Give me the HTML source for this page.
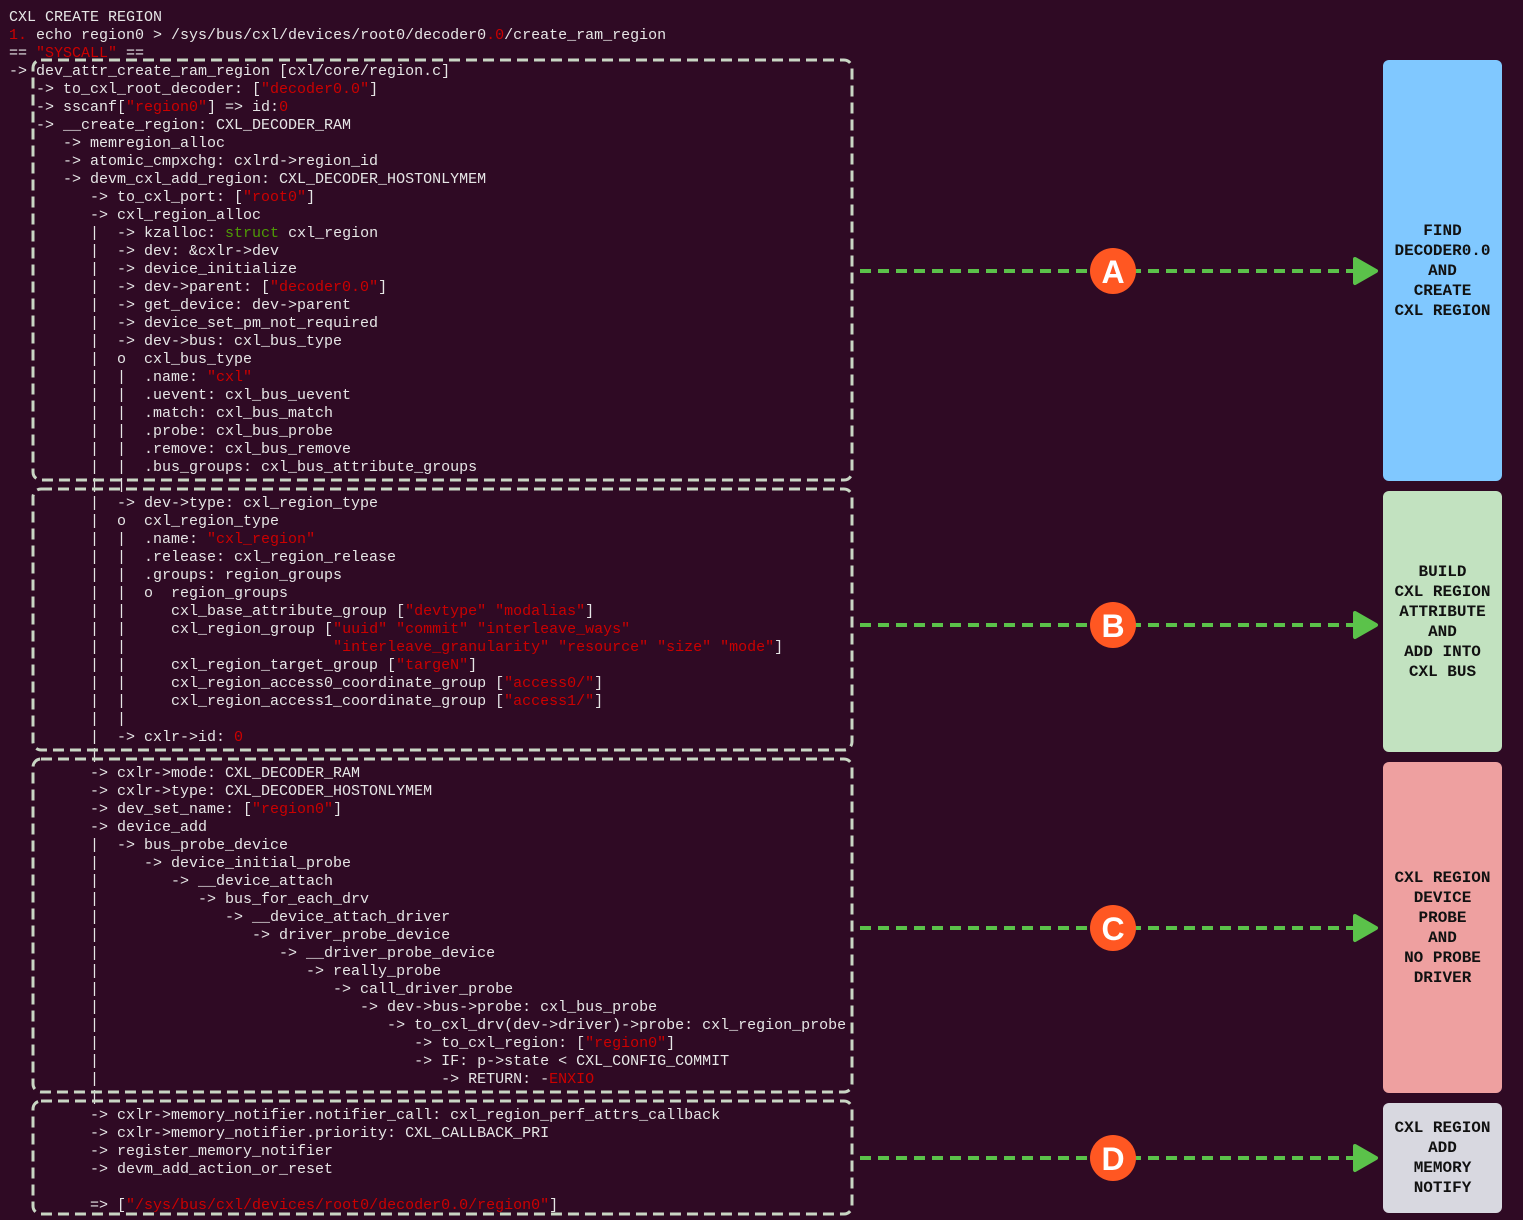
<!DOCTYPE html>
<html><head><meta charset="utf-8"><style>
html,body{margin:0;padding:0;background:#2f0a24;width:1523px;height:1220px;overflow:hidden}
pre{position:absolute;left:9px;top:9px;margin:0;font-family:"Liberation Mono",monospace;font-size:15px;line-height:18px;color:#e6e6e6;white-space:pre}
.r{color:#cc0000}.g{color:#4e9a06}
svg{position:absolute;left:0;top:0}
.panel{position:absolute;left:1383px;width:119px;border-radius:6px;display:flex;align-items:center;justify-content:center;text-align:center;font-family:"Liberation Mono",monospace;font-weight:bold;font-size:16px;line-height:20px;color:#111}
</style></head><body>
<pre>CXL CREATE REGION
<span class="r">1.</span> echo region0 &gt; /sys/bus/cxl/devices/root0/decoder0<span class="r">.0</span>/create_ram_region
== <span class="r">"SYSCALL"</span> ==
-> dev_attr_create_ram_region [cxl/core/region.c]
   -> to_cxl_root_decoder: [<span class="r">"decoder0.0"</span>]
   -> sscanf[<span class="r">"region0"</span>] =&gt; id:<span class="r">0</span>
   -> __create_region: CXL_DECODER_RAM
      -> memregion_alloc
      -> atomic_cmpxchg: cxlrd->region_id
      -> devm_cxl_add_region: CXL_DECODER_HOSTONLYMEM
         -> to_cxl_port: [<span class="r">"root0"</span>]
         -> cxl_region_alloc
         |  -> kzalloc: <span class="g">struct</span> cxl_region
         |  -> dev: &amp;cxlr->dev
         |  -> device_initialize
         |  -> dev->parent: [<span class="r">"decoder0.0"</span>]
         |  -> get_device: dev->parent
         |  -> device_set_pm_not_required
         |  -> dev->bus: cxl_bus_type
         |  o  cxl_bus_type
         |  |  .name: <span class="r">"cxl"</span>
         |  |  .uevent: cxl_bus_uevent
         |  |  .match: cxl_bus_match
         |  |  .probe: cxl_bus_probe
         |  |  .remove: cxl_bus_remove
         |  |  .bus_groups: cxl_bus_attribute_groups
         |  |
         |  -> dev->type: cxl_region_type
         |  o  cxl_region_type
         |  |  .name: <span class="r">"cxl_region"</span>
         |  |  .release: cxl_region_release
         |  |  .groups: region_groups
         |  |  o  region_groups
         |  |     cxl_base_attribute_group [<span class="r">"devtype" "modalias"</span>]
         |  |     cxl_region_group [<span class="r">"uuid" "commit" "interleave_ways"</span>
         |  |                       <span class="r">"interleave_granularity" "resource" "size" "mode"</span>]
         |  |     cxl_region_target_group [<span class="r">"targeN"</span>]
         |  |     cxl_region_access0_coordinate_group [<span class="r">"access0/"</span>]
         |  |     cxl_region_access1_coordinate_group [<span class="r">"access1/"</span>]
         |  |
         |  -> cxlr->id: <span class="r">0</span>
         |
         -> cxlr->mode: CXL_DECODER_RAM
         -> cxlr->type: CXL_DECODER_HOSTONLYMEM
         -> dev_set_name: [<span class="r">"region0"</span>]
         -> device_add
         |  -> bus_probe_device
         |     -> device_initial_probe
         |        -> __device_attach
         |           -> bus_for_each_drv
         |              -> __device_attach_driver
         |                 -> driver_probe_device
         |                    -> __driver_probe_device
         |                       -> really_probe
         |                          -> call_driver_probe
         |                             -> dev->bus->probe: cxl_bus_probe
         |                                -> to_cxl_drv(dev->driver)->probe: cxl_region_probe
         |                                   -> to_cxl_region: [<span class="r">"region0"</span>]
         |                                   -> IF: p->state &lt; CXL_CONFIG_COMMIT
         |                                      -> RETURN: -<span class="r">ENXIO</span>
         |
         -> cxlr->memory_notifier.notifier_call: cxl_region_perf_attrs_callback
         -> cxlr->memory_notifier.priority: CXL_CALLBACK_PRI
         -> register_memory_notifier
         -> devm_add_action_or_reset

         =&gt; [<span class="r">"/sys/bus/cxl/devices/root0/decoder0.0/region0"</span>]</pre>
<svg width="1523" height="1220" viewBox="0 0 1523 1220">
<g fill="none" stroke="#c9d6c4" stroke-width="3" stroke-dasharray="11 6">
<rect x="33" y="60" width="819" height="420" rx="8"/>
<rect x="33" y="489" width="819" height="261" rx="8"/>
<rect x="33" y="759" width="819" height="333" rx="8"/>
<rect x="33" y="1101" width="819" height="113" rx="8"/>
</g>
<g stroke="#5bc24a" stroke-width="4" stroke-dasharray="11 7" fill="none">
<line x1="860" y1="271" x2="1362" y2="271"/>
<line x1="860" y1="625" x2="1362" y2="625"/>
<line x1="860" y1="928" x2="1362" y2="928"/>
<line x1="860" y1="1158" x2="1362" y2="1158"/>
</g>
<g fill="#5bc24a" stroke="#5bc24a" stroke-width="4" stroke-linejoin="round">
<polygon points="1355,259 1376,271 1355,283"/>
<polygon points="1355,613 1376,625 1355,637"/>
<polygon points="1355,916 1376,928 1355,940"/>
<polygon points="1355,1146 1376,1158 1355,1170"/>
</g>
<g fill="#ff5722"><ellipse cx="1113" cy="271" rx="23" ry="23"/><ellipse cx="1113" cy="625" rx="23" ry="23"/><ellipse cx="1113" cy="928" rx="23" ry="23"/><ellipse cx="1113" cy="1158" rx="23" ry="23"/></g>
<g fill="#fff" font-family="Liberation Sans, sans-serif" font-weight="bold" font-size="32" text-anchor="middle">
<text x="1113" y="283">A</text><text x="1113" y="637">B</text><text x="1113" y="940">C</text><text x="1113" y="1170">D</text>
</g>
</svg>
<div class="panel" style="top:60px;height:421px;background:#80c8ff">FIND<br>DECODER0.0<br>AND<br>CREATE<br>CXL REGION</div>
<div class="panel" style="top:491px;height:261px;background:#c2e2c0">BUILD<br>CXL REGION<br>ATTRIBUTE<br>AND<br>ADD INTO<br>CXL BUS</div>
<div class="panel" style="top:762px;height:331px;background:#eea0a0">CXL REGION<br>DEVICE<br>PROBE<br>AND<br>NO PROBE<br>DRIVER</div>
<div class="panel" style="top:1103px;height:110px;background:#d8d8e0">CXL REGION<br>ADD<br>MEMORY<br>NOTIFY</div>
</body></html>
